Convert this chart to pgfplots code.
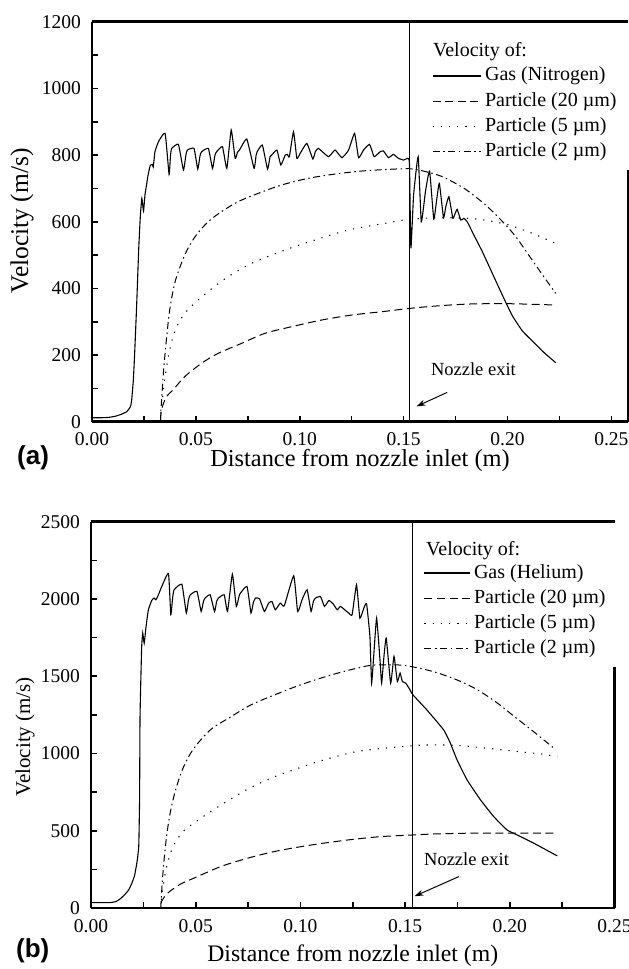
\documentclass[border=0pt]{standalone}
\usepackage{pgfplots}
\pgfplotsset{compat=1.18}
\usepackage{pgfplotstable}
\usepackage{fontspec}
\setmainfont{Liberation Serif}
\newfontfamily\panelfont{Liberation Sans}
\usetikzlibrary{arrows.meta}

% ---- (a) nitrogen ----
\pgfplotstableread{
x y
0 12
0.005 12
0.008 13
0.011 16
0.014 22
0.0167 30
0.0185 45
0.0191 65
0.0199 125
0.0205 200
0.0215 350
0.0225 520
0.0233 620
0.024 670
0.0248 632
0.0255 680
0.027 740
0.028 768
0.029 772
0.0295 764
0.0303 810
0.032 840
0.0352 865
0.0371 742
0.0378 800
0.0384 820
0.0416 832
0.044 755
0.0452 800
0.0459 815
0.0491 820
0.0509 758
0.0520 798
0.0528 810
0.056 820
0.058 760
0.0592 800
0.060 810
0.0628 825
0.0649 760
0.067 875
0.0689 790
0.0700 808
0.071 815
0.0745 848
0.078 760
0.0790 800
0.0795 810
0.082 830
0.0845 758
0.0857 795
0.0865 800
0.089 815
0.0909 770
0.093 800
0.094 802
0.095 795
0.097 870
0.0986 790
0.1002 805
0.1034 835
0.1063 788
0.1075 810
0.109 820
0.1138 795
0.117 815
0.1203 792
0.1235 815
0.1264 865
0.1283 792
0.1307 815
0.1336 832
0.1358 795
0.1387 810
0.1403 812
0.1427 792
0.1451 802
0.1475 790
0.150 785
0.1519 790
0.1528 775
0.1535 520
0.1548 680
0.157 795
0.1585 600
0.1605 690
0.1625 752
0.1645 608
0.166 670
0.1672 715
0.1692 612
0.1703 645
0.1718 675
0.1737 610
0.1748 625
0.1758 637
0.1775 605
0.179 610
0.1806 600
0.1838 560
0.1879 510
0.1927 445
0.1975 380
0.2023 318
0.2072 272
0.2136 232
0.2180 205
0.2232 177
}\gasN
\pgfplotstableread{
x y
0.0330 5
0.0334 35
0.0358 75
0.039 95
0.0446 135
0.0527 175
0.0607 205
0.072 235
0.0832 265
0.0961 285
0.1105 305
0.125 320
0.1395 330
0.153 340
0.1654 347
0.1814 353
0.2007 354
0.2232 350
}\twentyN
\pgfplotstableread{
x y
0.0330 0
0.0334 40
0.0350 125
0.0366 190
0.0390 255
0.0420 300
0.0460 335
0.0502 360
0.0568 395
0.0655 435
0.0768 475
0.0928 515
0.1073 545
0.1234 575
0.1427 597
0.1523 607
0.1590 610
0.1686 612
0.1814 610
0.1910 603
0.2007 590
0.2119 565
0.2232 535
}\fiveN
\pgfplotstableread{
x y
0.0330 0
0.0332 35
0.0337 85
0.0346 165
0.0358 245
0.0374 335
0.0398 415
0.0430 475
0.0462 520
0.0502 560
0.0559 600
0.0623 630
0.0703 660
0.0800 685
0.0912 710
0.1040 730
0.1170 743
0.1298 752
0.1427 757
0.1523 759
0.1580 754
0.1644 744
0.1694 733
0.1773 707
0.1814 690
0.1895 650
0.1975 601
0.2040 555
0.2104 498
0.2168 441
0.2232 385
}\twoN

% ---- (b) helium ----
\pgfplotstableread{
x y
0 35
0.009 35
0.012 42
0.014 60
0.016 85
0.018 117
0.0195 160
0.0208 210
0.022 300
0.0228 400
0.0232 700
0.0234 1220
0.0238 1480
0.0242 1690
0.0247 1780
0.0254 1714
0.0263 1822
0.0274 1930
0.029 1990
0.0301 2006
0.031 1995
0.0322 2027
0.0338 2081
0.0370 2165
0.0381 1898
0.0390 2010
0.0397 2060
0.0434 2095
0.0455 1909
0.0465 1990
0.0474 2027
0.0506 2049
0.0526 1919
0.0537 1985
0.0545 2006
0.0569 2027
0.059 1919
0.0600 1985
0.0609 2006
0.0636 2027
0.0652 1919
0.0675 2160
0.0694 1952
0.0710 2030
0.0745 2081
0.0764 1909
0.0775 1975
0.0785 2006
0.0805 2001
0.0828 1919
0.0848 1973
0.0864 1984
0.088 1930
0.0904 1973
0.0923 1956
0.0968 2150
0.0987 1919
0.1008 1995
0.1032 2060
0.1051 1919
0.1062 1985
0.1072 2006
0.1096 2016
0.1115 1952
0.1136 1990
0.1156 1969
0.1176 1930
0.1191 1952
0.1215 1926
0.1231 1909
0.1247 1898
0.1268 2092
0.1284 1876
0.1303 1941
0.1316 1969
0.1332 1757
0.134 1455
0.1351 1649
0.1364 1876
0.138 1606
0.1388 1455
0.1399 1628
0.141 1747
0.1431 1455
0.1447 1628
0.1463 1466
0.1476 1520
0.1487 1466
0.1503 1455
0.1520 1420
0.1537 1380
0.1604 1282
0.1684 1153
0.1716 1067
0.1748 959
0.1796 829
0.186 700
0.1923 592
0.1987 505
0.2035 473
0.2115 419
0.2227 337
}\gasH
\pgfplotstableread{
x y
0.0335 30
0.0336 41
0.0365 95
0.0428 155
0.0508 203
0.0619 268
0.0747 322
0.0874 365
0.1002 397
0.1129 423
0.1256 445
0.1384 462
0.1511 471
0.1636 479
0.1796 484
0.2003 485
0.2215 485
}\twentyH
\pgfplotstableread{
x y
0.0333 0
0.0336 52
0.0349 181
0.0365 289
0.0389 390
0.042 460
0.0452 510
0.0572 625
0.0667 705
0.0763 780
0.0874 848
0.0986 903
0.1113 959
0.1272 1013
0.1432 1038
0.1575 1054
0.1636 1056
0.1764 1051
0.1891 1034
0.2035 1013
0.2147 997
0.2227 980
}\fiveH
\pgfplotstableread{
x y
0.0333 0
0.0336 73
0.0341 181
0.0352 354
0.0365 505
0.0381 635
0.0404 764
0.0436 894
0.0476 1002
0.0524 1088
0.058 1164
0.0665 1235
0.0750 1305
0.0841 1360
0.1000 1444
0.1159 1513
0.1319 1567
0.1399 1574
0.1480 1572
0.1542 1559
0.1640 1528
0.1748 1476
0.1843 1414
0.1939 1328
0.2019 1242
0.2115 1140
0.2211 1034
}\twoH

\pgfplotsset{
  velo/.style={
    scale only axis,
    clip=false,
    separate axis lines,
    axis x line*=box,
    axis y line*=left,
    axis line style={line width=2.6pt},
    xmin=0, ymin=0,
    tick align=inside,
    xtick pos=left, ytick pos=left,
    major tick length=6pt, minor tick length=6pt,
    every tick/.style={black, line width=1.6pt},
    minor x tick num=1, minor y tick num=1,
    xtick={0,0.05,0.1,0.15,0.2,0.25},
    scaled x ticks=false, scaled y ticks=false,
    /pgf/number format/assume math mode=true,
    tick label style={font=\fontsize{19.5}{20}\selectfont},
    xticklabel style={/pgf/number format/fixed, /pgf/number format/fixed zerofill,
      /pgf/number format/precision=2, anchor=base, inner sep=0pt},
    yticklabel style={/pgf/number format/1000 sep={}, anchor=east, inner sep=0pt, xshift=-11pt},
    legend style={draw=none, fill=none, inner sep=0pt, outer sep=0pt, anchor=north west,
      font=\fontsize{20}{22}\selectfont, row sep=7.3pt,
      nodes={inner sep=0pt, text height=14pt, text depth=4pt},
      /tikz/every odd column/.append style={column sep=4pt}},
    legend cell align=left,
    gas/.style={black, line width=1.1pt, smooth, tension=0.25},
    p20/.style={black, line width=1pt, smooth, dash pattern=on 8pt off 4.5pt},
    p5/.style={black, line width=1.1pt, smooth, dash pattern=on 1.2pt off 7pt},
    p2/.style={black, line width=1pt, smooth, dash pattern=on 7pt off 3.5pt on 1.5pt off 3.5pt},
  }
}

\begin{document}
\begin{tikzpicture}
% ---------------- (a) ----------------
\begin{axis}[velo,
  at={(92pt,-421.7pt)}, anchor=south west,
  width=536pt, height=400pt,
  xmax=0.258, ymax=1200,
  ytick={0,200,...,1200},
  xticklabel style={yshift=-23.3pt},
  xlabel={Distance from nozzle inlet (m)},
  xlabel style={at={(axis description cs:0.5,-0.113)}, anchor=base, inner sep=0pt,
    font=\fontsize{24.4}{26}\selectfont},
  ylabel={Velocity (m/s)},
  ylabel style={at={(axis description cs:-0.1194,0.502)}, anchor=base, inner sep=0pt,
    font=\fontsize{25.5}{27}\selectfont},
  legend image code/.code={\draw[#1] (0pt,0pt) -- (48pt,0pt);},
  legend style={at={(axis description cs:0.6343,0.8868)}},
]
\addplot[gas] table {\gasN};
\addlegendentry{Gas (Nitrogen)}
\addplot[p20] table {\twentyN};
\addlegendentry{Particle (20 µm)}
\addplot[p5] table {\fiveN};
\addlegendentry{Particle (5 µm)}
\addplot[p2] table {\twoN};
\addlegendentry{Particle (2 µm)}
\addplot[black, line width=0.9pt, forget plot] coordinates {(0.153,0) (0.153,1200)};
\draw[line width=2.6pt] (axis cs:0.258,755) -- (axis cs:0.258,0);
\draw[line width=1pt, -{Stealth[length=9pt, width=6pt]}] (axis cs:0.1710,88) -- (axis cs:0.1562,46);
\node[anchor=base west, inner sep=0pt, font=\fontsize{18.5}{20}\selectfont]
  at (axis cs:0.1631,140) {Nozzle exit};
\node[anchor=base west, inner sep=0pt, font=\fontsize{20}{22}\selectfont]
  at (axis description cs:0.636,0.914) {Velocity of:};
\end{axis}

% ---------------- (b) ----------------
\begin{axis}[velo,
  at={(91pt,-908pt)}, anchor=south west,
  width=523.5pt, height=386.3pt,
  xmax=0.25, ymax=2500,
  ytick={0,500,...,2500},
  xticklabel style={yshift=-24.5pt},
  xlabel={Distance from nozzle inlet (m)},
  xlabel style={at={(axis description cs:0.5,-0.139)}, anchor=base, inner sep=0pt,
    font=\fontsize{23.7}{26}\selectfont},
  ylabel={Velocity (m/s)},
  ylabel style={at={(axis description cs:-0.1165,0.443)}, anchor=base, inner sep=0pt,
    font=\fontsize{21}{23}\selectfont},
  legend image code/.code={\draw[#1] (0pt,0pt) -- (45pt,0pt);},
  legend style={at={(axis description cs:0.636,0.8905)}},
]
\addplot[gas] table {\gasH};
\addlegendentry{Gas (Helium)}
\addplot[p20] table {\twentyH};
\addlegendentry{Particle (20 µm)}
\addplot[p5] table {\fiveH};
\addlegendentry{Particle (5 µm)}
\addplot[p2] table {\twoH};
\addlegendentry{Particle (2 µm)}
\addplot[black, line width=0.9pt, forget plot] coordinates {(0.1537,0) (0.1537,2500)};
\draw[line width=2.6pt] (axis cs:0.25,1561) -- (axis cs:0.25,0);
\draw[line width=1pt, -{Stealth[length=9pt, width=6pt]}] (axis cs:0.1756,203) -- (axis cs:0.1545,76);
\node[anchor=base west, inner sep=0pt, font=\fontsize{18.5}{20}\selectfont]
  at (axis cs:0.159,278) {Nozzle exit};
\node[anchor=base west, inner sep=0pt, font=\fontsize{20}{22}\selectfont]
  at (axis description cs:0.64,0.9138) {Velocity of:};
\end{axis}

\node[anchor=base west, inner sep=0pt, font=\panelfont\bfseries\fontsize{26}{28}\selectfont]
  at (17pt,-464.5pt) {(a)};
\node[anchor=base west, inner sep=0pt, font=\panelfont\bfseries\fontsize{26}{28}\selectfont]
  at (16pt,-957pt) {(b)};

\pgfresetboundingbox
\path[use as bounding box] (0pt,0pt) rectangle (629pt,-969pt);
\end{tikzpicture}
\end{document}
